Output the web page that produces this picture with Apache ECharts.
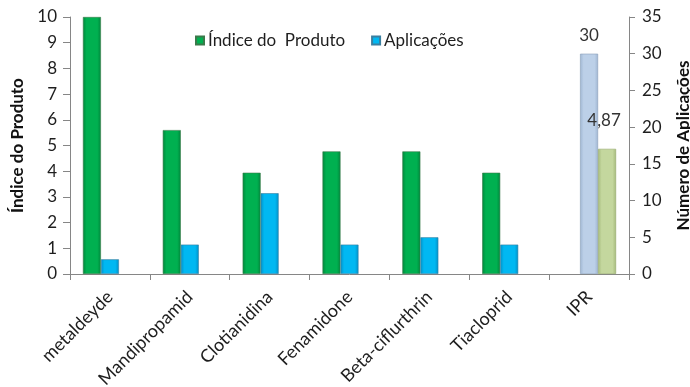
<!DOCTYPE html>
<html><head><meta charset="utf-8">
<script src="https://cdn.jsdelivr.net/npm/echarts@6/dist/echarts.min.js"></script>
<style>html,body{margin:0;padding:0;background:#fff}#c{width:690px;height:387px}</style>
</head><body><div id="c"></div>
<script>
const categories = ['metaldeyde','Mandipropamid','Clotianidina','Fenamidone','Beta-ciflurthrin','Tiacloprid','IPR'];
const indiceProduto = [10, 5.6, 3.94, 4.77, 4.77, 3.94, null];
const aplicacoes = [2, 4, 11, 4, 5, 4, 30];
const iprIndice = [null, null, null, null, null, null, 4.87];
const leftTicks = [0,10,1];
const rightTicks = [0,35,5];

const chart = echarts.init(document.getElementById('c'));
const font = 'Lato, "Open Sans", sans-serif';
const axisGray = '#868686';
const txt = '#1e1e1e';
function grad(c1, c2){
  return new echarts.graphic.LinearGradient(0,0,1,0,[{offset:0,color:c2},{offset:0.2,color:c1},{offset:0.8,color:c1},{offset:1,color:c2}]);
}
chart.setOption({
  animation:false,
  textStyle:{fontFamily:font},
  legend:{
    data:['Índice do  Produto','Aplicações'],
    left:190, top:27, itemWidth:8, itemHeight:8, itemGap:26,
    icon:'rect',
    textStyle:{fontFamily:font, fontSize:17, color:txt, padding:[0,0,0,-1]}
  },
  grid:{left:70, right:61, top:17, bottom:113, outerBoundsMode:'none', containLabel:false},
  xAxis:{
    type:'category', data:categories,
    axisLine:{lineStyle:{color:axisGray}},
    axisTick:{show:true, length:6, lineStyle:{color:axisGray}},
    axisLabel:{rotate:45, fontSize:18, color:txt, margin:20, fontFamily:font}
  },
  yAxis:[
    {type:'value', min:leftTicks[0], max:leftTicks[1], interval:leftTicks[2],
     name:'Índice do Produto', nameLocation:'middle', nameGap:42, nameRotate:90,
     nameTextStyle:{fontWeight:'bold', fontSize:17, color:'#111', fontFamily:font},
     axisLine:{show:true, lineStyle:{color:axisGray}},
     axisTick:{show:true, length:7, lineStyle:{color:axisGray}},
     splitLine:{show:false},
     axisLabel:{fontSize:17, color:txt, margin:13, fontFamily:font}},
    {type:'value', min:rightTicks[0], max:rightTicks[1], interval:rightTicks[2],
     name:'Número de Aplicações', nameLocation:'middle', nameGap:46, nameRotate:90,
     nameTextStyle:{fontWeight:'bold', fontSize:17, color:'#111', fontFamily:font},
     axisLine:{show:true, lineStyle:{color:axisGray}},
     axisTick:{show:true, length:6, lineStyle:{color:axisGray}},
     splitLine:{show:false},
     axisLabel:{fontSize:17, color:txt, margin:13, fontFamily:font}}
  ],
  series:[
    {name:'Índice do  Produto', type:'bar', yAxisIndex:0, data:indiceProduto,
     barWidth:18, barGap:'0%',
     itemStyle:{color:grad('#00b050','#00873c'), borderColor:'#3a7a4a', borderWidth:0.6}},
    {name:'Aplicações', type:'bar', yAxisIndex:1,
     data:aplicacoes.map((v,i)=> i===6 ? {value:v, itemStyle:{color:grad('#bcd0e8','#9fb6d2'), borderColor:'#8aa0bb'}, label:{show:true}} : v),
     barWidth:18, barGap:'0%',
     label:{show:false, position:'top', distance:10, fontSize:17, color:'#333', fontFamily:font},
     itemStyle:{color:grad('#00b8f2','#0090c8'), borderColor:'#3a7fa0', borderWidth:0.6}},
    {name:'IPR', type:'bar', yAxisIndex:0, data:iprIndice,
     barWidth:18, barGap:'0%',
     label:{show:true, position:'top', distance:20, offset:[-3,0], fontSize:17, color:'#333', fontFamily:font,
       formatter:p=> String(p.value).replace('.',',')},
     itemStyle:{color:grad('#c4d79e','#a6bb7c'), borderColor:'#93a86a', borderWidth:0.6}}
  ]
});
</script></body></html>
